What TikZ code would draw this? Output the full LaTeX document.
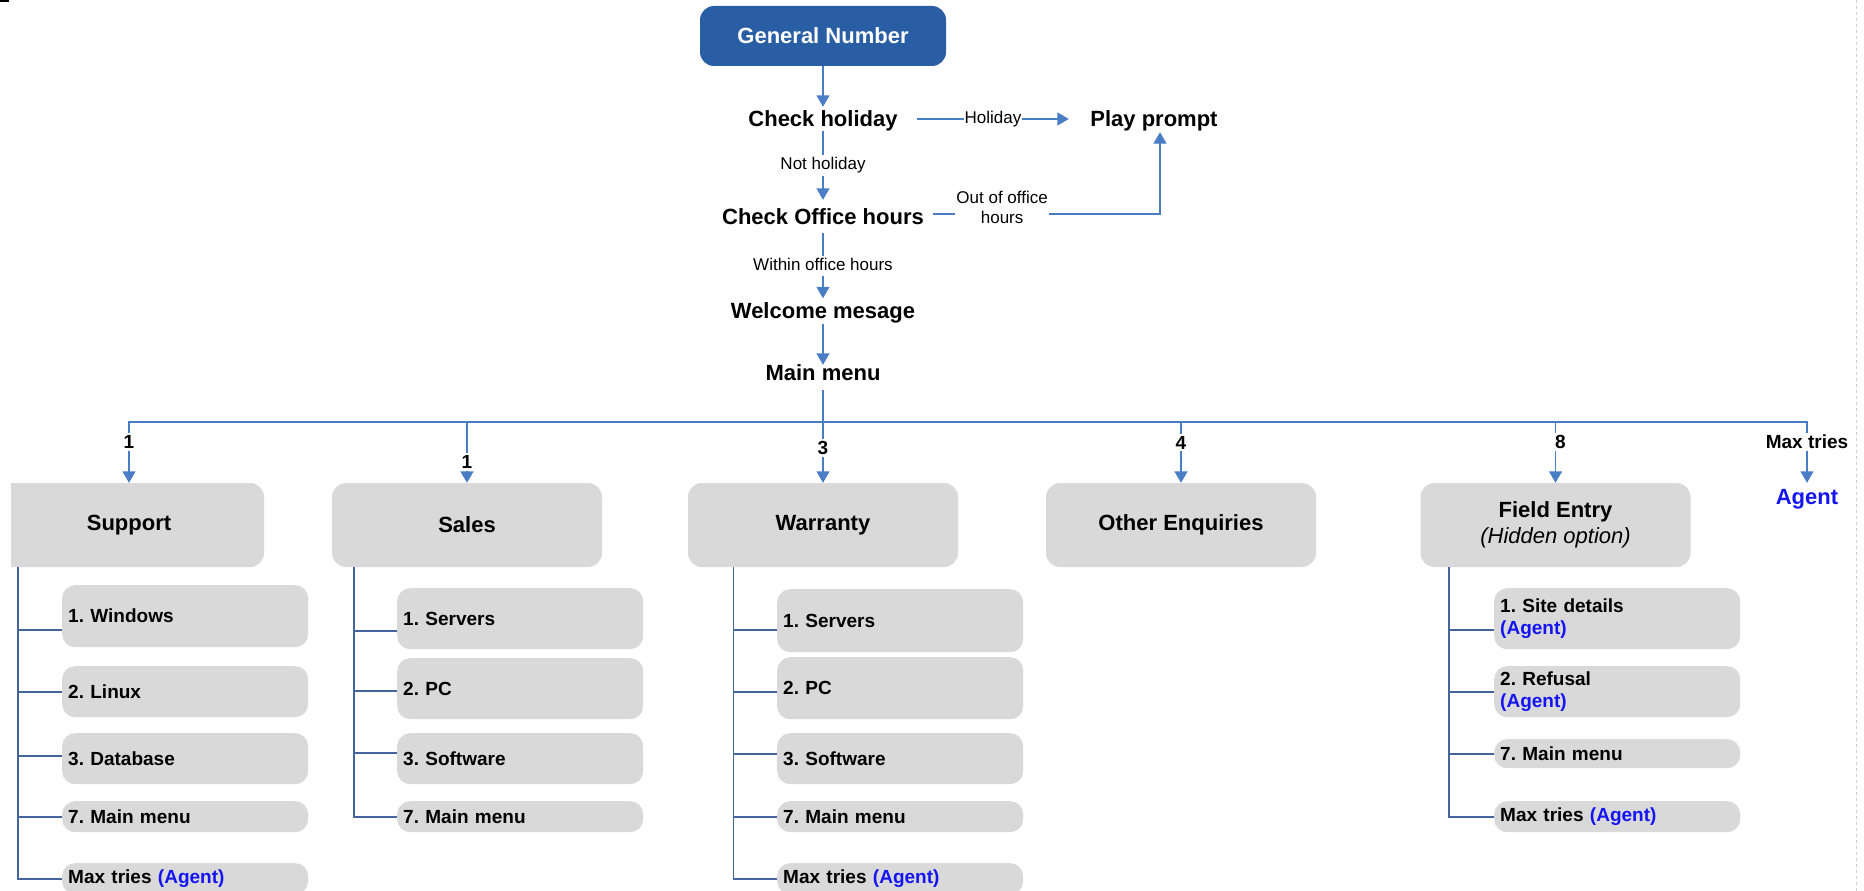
\documentclass[tikz,border=0pt]{standalone}
\usepackage{fontspec}
\setmainfont{Liberation Sans}
\usetikzlibrary{arrows.meta,calc}
\frenchspacing

\definecolor{gnblue}{RGB}{42,94,164}
\definecolor{flowblue}{RGB}{74,126,196}
\definecolor{treeblue}{RGB}{68,100,156}
\definecolor{boxgray}{RGB}{217,217,217}
\definecolor{agentblue}{RGB}{20,20,245}

\newcommand\fbig{\fontsize{22}{26}\selectfont}
\newcommand\fmid{\fontsize{19}{22.7}\selectfont}
\newcommand\fsml{\fontsize{17}{19.5}\selectfont}
\newcommand\agenttag{\textcolor{agentblue}{(Agent)}}

\begin{document}
\begin{tikzpicture}[x=1pt,y=-1pt,
  flowline/.style={draw=flowblue, line width=1.4pt},
  flowarrow/.style={flowline, -{Triangle[length=11.5pt,width=13pt]}},
  treeline/.style={draw=treeblue, line width=1.6pt},
  flowtext/.style={font=\fbig\bfseries, text height=15.8pt, text depth=0pt, inner sep=0pt},
  edgelbl/.style={font=\fsml, fill=white, inner xsep=1pt, inner ysep=2pt, text height=12.5pt, text depth=3.6pt},
  edgelbltwo/.style={font=\fsml, fill=white, inner xsep=1pt, inner ysep=2pt, align=center},
  branchlbl/.style={font=\fmid\bfseries, fill=white, inner sep=2pt, text height=13.6pt, text depth=0pt},
  menubox/.style={fill=boxgray, rounded corners=14pt, minimum width=270pt, minimum height=84pt, inner sep=0pt, font=\fbig\bfseries, align=center},
  itembox/.style={fill=boxgray, rounded corners=13pt, anchor=north west, text width=234pt, inner xsep=6pt, inner ysep=0pt, align=left, font=\fmid\bfseries},
]
\useasboundingbox (0,0) rectangle (1864,891);
\clip (0,0) rectangle (1864,891);

% page marks
\fill (0,0) rectangle (9,2.5);
\draw[black!18, line width=1pt, dash pattern=on 3pt off 3pt] (1856,0) -- (1856,891);

% call flow at the top
\node[fill=gnblue, rounded corners=14pt, minimum width=246pt, minimum height=60pt, inner sep=0pt,
      text=white, font=\fbig\bfseries, text height=15.8pt, text depth=0pt] (gn) at (823,36) {General Number};
\node[flowtext, minimum width=188pt, minimum height=24pt] (ch) at (823,119) {Check holiday};
\node[flowtext, minimum width=170pt, minimum height=26pt] (pp) at (1154,119) {Play prompt};
\node[flowtext, minimum width=220pt, minimum height=33pt] (coh) at (823,216.5) {Check Office hours};
\node[flowtext, minimum width=200pt, minimum height=25pt] (wm) at (823,311) {Welcome mesage};
\node[flowtext, text depth=9pt, minimum width=160pt, minimum height=25pt] (mm) at (823,377.5) {Main menu};

\draw[flowarrow] (gn) -- (ch);
\draw[flowarrow] (ch) -- node[edgelbl]{Holiday} (pp);
\draw[flowarrow] (ch) -- node[edgelbl]{Not holiday} (coh);
\draw[flowarrow] ([yshift=2.5pt]coh.east) -| node[edgelbltwo, pos=0.152, yshift=6.4pt]{Out of office\\hours} ([xshift=6pt]pp.south);
\draw[flowarrow] (coh) -- node[edgelbl]{Within office hours} (wm);
\draw[flowarrow] (wm) -- (mm);

% menu options
\begin{scope}
  \clip (11,0) rectangle (1864,891);
  \node[menubox] (sup) at (129,525) {Support};
\end{scope}
\node[menubox] (sal) at (467,525) {Sales};
\node[menubox] (war) at (823,525) {Warranty};
\node[menubox] (oth) at (1181,525) {Other Enquiries};
\node[menubox] (fld) at (1555.5,525) {Field Entry\\{\mdseries\itshape (Hidden option)}};
\node[flowtext, text=agentblue, minimum height=28pt] (agt) at (1807,497) {Agent};

\coordinate (hub) at (823,422);
\draw[flowline] (mm) -- (hub);
\draw[flowarrow] (hub) -| node[branchlbl, pos=0.664]{1} (sup.north);
\draw[flowarrow] (hub) -| node[branchlbl, pos=0.828]{1} (sal.north);
\draw[flowarrow] (hub) -- node[branchlbl, pos=0.426]{3} (war.north);
\draw[flowarrow] (hub) -| node[branchlbl, pos=0.67]{4} (oth.north);
\draw[flowarrow] (hub) -| node[branchlbl, pos=0.664, xshift=5pt]{8} (fld.north);
\draw[flowarrow] (hub) -| node[branchlbl, pos=0.664]{Max tries} (agt.north);

% Support submenu
\node[itembox, minimum height=62pt] (su1) at (62,585) {1. Windows};
\node[itembox, minimum height=51pt] (su2) at (62,666) {2. Linux};
\node[itembox, minimum height=51pt] (su3) at (62,733) {3. Database};
\node[itembox, minimum height=31pt] (su4) at (62,801) {7. Main menu};
\node[itembox, minimum height=31pt] (su5) at (62,863) {Max tries \agenttag};
\coordinate (suT) at ($(sup.south west)+(24.4,0)$);
\draw[treeline] (suT) |- ([yshift=-14pt]su1.west);
\draw[treeline] (suT) |- (su2.west);
\draw[treeline] (suT) |- ([yshift=3pt]su3.west);
\draw[treeline] (suT) |- (su4.west);
\draw[treeline] (suT) |- (su5.west);

% Sales submenu
\node[itembox, minimum height=61pt] (sa1) at (397,588) {1. Servers};
\node[itembox, minimum height=61pt] (sa2) at (397,658) {2. PC};
\node[itembox, minimum height=51pt] (sa3) at (397,733) {3. Software};
\node[itembox, minimum height=31pt] (sa4) at (397,801) {7. Main menu};
\coordinate (saT) at ($(sal.south west)+(22,0)$);
\draw[treeline] (saT) |- ([yshift=-12.5pt]sa1.west);
\draw[treeline] (saT) |- ([yshift=-2.5pt]sa2.west);
\draw[treeline] (saT) |- ([yshift=5.5pt]sa3.west);
\draw[treeline] (saT) |- (sa4.west);

% Warranty submenu
\node[itembox, minimum height=63pt] (wa1) at (777,589) {1. Servers};
\node[itembox, minimum height=62pt] (wa2) at (777,657) {2. PC};
\node[itembox, minimum height=51pt] (wa3) at (777,733) {3. Software};
\node[itembox, minimum height=31pt] (wa4) at (777,801) {7. Main menu};
\node[itembox, minimum height=31pt] (wa5) at (777,863) {Max tries \agenttag};
\coordinate (waT) at ($(war.south west)+(45.5,0)$);
\draw[treeline] (waT) |- ([yshift=-9.5pt]wa1.west);
\draw[treeline] (waT) |- ([yshift=-4pt]wa2.west);
\draw[treeline] (waT) |- ([yshift=4.5pt]wa3.west);
\draw[treeline] (waT) |- (wa4.west);
\draw[treeline] (waT) |- (wa5.west);

% Field Entry submenu
\node[itembox, minimum height=61pt] (fe1) at (1494,588) {1. Site details\\\agenttag};
\node[itembox, minimum height=51pt] (fe2) at (1494,666) {2. Refusal\\\agenttag};
\node[itembox, minimum height=29pt] (fe3) at (1494,739) {7. Main menu};
\node[itembox, minimum height=31pt] (fe4) at (1494,801) {Max tries \agenttag};
\coordinate (feT) at ($(fld.south west)+(28.8,0)$);
\draw[treeline] (feT) |- ([yshift=-11.5pt]fe1.west);
\draw[treeline] (feT) |- (fe2.west);
\draw[treeline] (feT) |- (fe3.west);
\draw[treeline] (feT) |- (fe4.west);
\end{tikzpicture}
\end{document}
